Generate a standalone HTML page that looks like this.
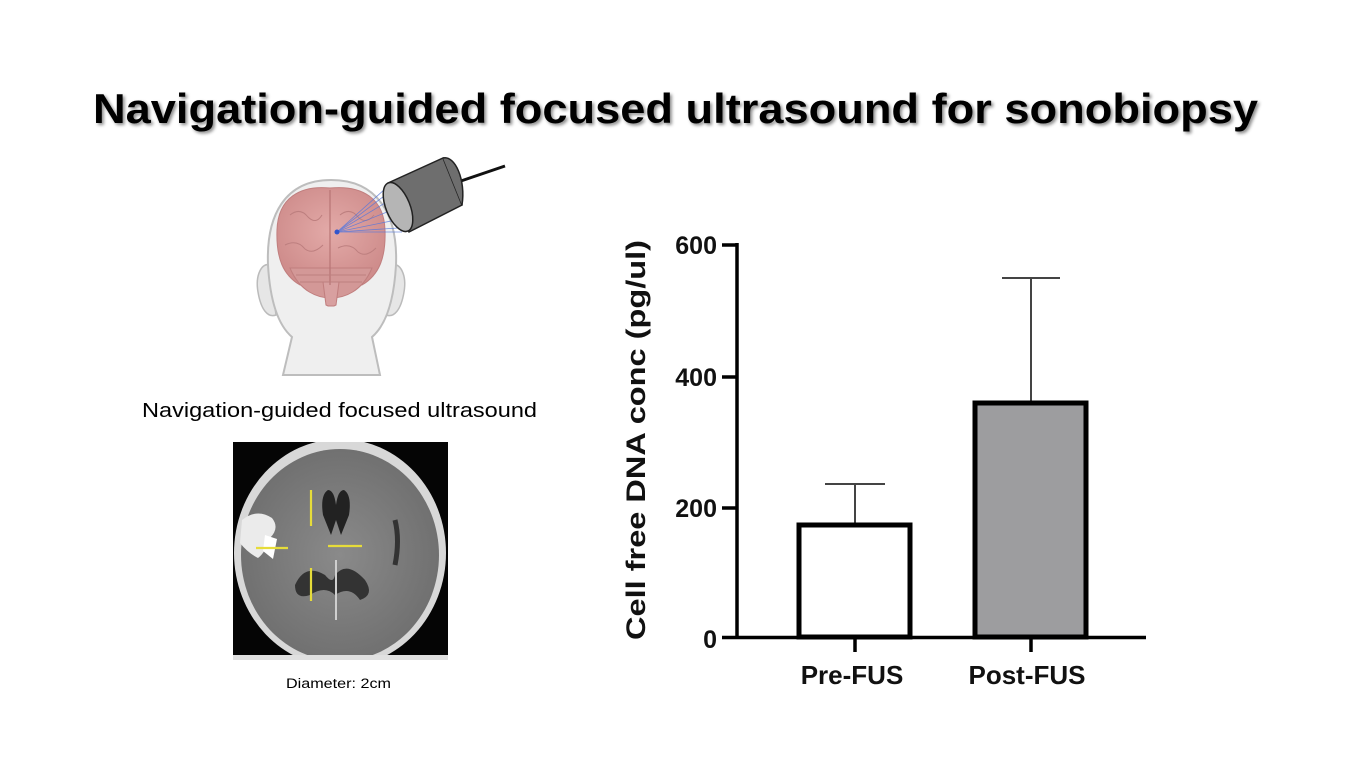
<!DOCTYPE html>
<html><head><meta charset="utf-8"><style>
html,body{margin:0;padding:0;background:#fff;}
svg{display:block;}
</style></head><body>
<svg width="1361" height="766" viewBox="0 0 1361 766" xmlns="http://www.w3.org/2000/svg" font-family="Liberation Sans, Arial, sans-serif">
<defs>
<filter id="sh" x="-5%" y="-20%" width="110%" height="150%"><feDropShadow dx="2" dy="2" stdDeviation="1.5" flood-color="#000" flood-opacity="0.45"/></filter>
<radialGradient id="brain" cx="50%" cy="45%" r="55%"><stop offset="0" stop-color="#e3aaa8"/><stop offset="1" stop-color="#cf8d8c"/></radialGradient>
<radialGradient id="mri" cx="50%" cy="50%" r="55%"><stop offset="0" stop-color="#8a8a8a"/><stop offset="1" stop-color="#6e6e6e"/></radialGradient>
<clipPath id="mc"><rect x="233" y="442" width="215" height="218"/></clipPath>
</defs>
<text x="93" y="123" font-size="42" font-weight="bold" textLength="1165" lengthAdjust="spacingAndGlyphs" filter="url(#sh)">Navigation-guided focused ultrasound for sonobiopsy</text>

<!-- head -->
<path d="M270 265 C262 262 255 275 258 292 C261 310 268 318 276 315 Z" fill="#e6e6e6" stroke="#bbb" stroke-width="1.5"/>
<path d="M392 265 C400 262 407 275 404 292 C401 310 394 318 386 315 Z" fill="#e6e6e6" stroke="#bbb" stroke-width="1.5"/>
<path d="M331 180 C285 180 266 215 268 265 C270 300 278 325 292 337 L283 375 L380 375 L372 337 C386 325 394 300 396 265 C398 215 378 180 331 180 Z" fill="#efefef" stroke="#bdbdbd" stroke-width="2"/>
<path d="M330 188 C300 185 278 198 277 230 C276 258 283 275 300 285 L362 285 C379 275 386 258 385 230 C384 198 362 185 330 188 Z" fill="url(#brain)" stroke="#c07e7e" stroke-width="1"/>
<path d="M290 268 C300 292 318 298 331 298 C344 298 362 292 372 268 Z" fill="#d39897" stroke="#c07e7e"/>
<path d="M323 282 L339 282 L336 305 L334 306 L328 306 L326 305 Z" fill="#d8a0a0" stroke="#c07e7e"/>
<line x1="330" y1="190" x2="330" y2="285" stroke="#b87575" stroke-width="1.2"/>
<g stroke="#bd7f7f" stroke-width="1" fill="none">
<path d="M290 215 q10 -8 18 2 q8 8 14 -2"/><path d="M285 245 q12 -6 20 4 q8 6 18 -4"/><path d="M340 215 q10 -8 18 2 q8 8 16 -2"/><path d="M338 248 q12 -6 20 4 q8 6 18 -4"/>
<path d="M296 275 h70"/><path d="M300 282 h62"/>
</g>
<g stroke="#5577dd" stroke-width="0.8" opacity="0.8">
<line x1="337" y1="232" x2="395" y2="180"/><line x1="337" y1="232" x2="392" y2="190"/><line x1="337" y1="232" x2="390" y2="200"/><line x1="337" y1="232" x2="392" y2="210"/><line x1="337" y1="232" x2="396" y2="220"/><line x1="337" y1="232" x2="402" y2="232"/><line x1="337" y1="232" x2="398" y2="228"/>
</g>
<circle cx="337" cy="232" r="2.5" fill="#3355cc"/>
<line x1="455" y1="183" x2="505" y2="166" stroke="#111" stroke-width="3"/>
<path d="M388 183 L443 158 L462 205 L409 232 Z" fill="#6e6e6e" stroke="#222" stroke-width="1.5"/>
<path d="M443 158 C455 155 466 180 462 205" fill="#6e6e6e" stroke="#222" stroke-width="1.5"/>
<ellipse cx="398" cy="207" rx="12" ry="26" transform="rotate(-22 398 207)" fill="#b5b5b5" stroke="#222" stroke-width="1.5"/>

<text x="142" y="417" font-size="20" textLength="395" lengthAdjust="spacingAndGlyphs">Navigation-guided focused ultrasound</text>

<!-- MRI -->
<g clip-path="url(#mc)">
<rect x="233" y="442" width="215" height="218" fill="#050505"/>
<ellipse cx="340" cy="553" rx="106" ry="114" fill="#d8d8d8"/>
<ellipse cx="340" cy="555" rx="99" ry="106" fill="url(#mri)"/>
<rect x="233" y="655" width="215" height="5" fill="#e0e0e0"/>
<path d="M328 490 q-8 5 -5 25 l8 20 l5 -15 l5 15 l8 -20 q3 -20 -5 -25 q-6 0 -8 15 q-2 -15 -8 -15Z" fill="#222"/>
<path d="M295 585 q10 -22 30 -10 q8 10 10 0 q12 -15 30 5 q10 15 -5 20 q-10 -15 -25 -5 q-10 -10 -25 0 q-15 5 -15 -10Z" fill="#333"/>
<path d="M242 520 q15 -12 30 -2 q8 10 -2 20 q-5 15 -12 20 q-10 -5 -18 -15 Z" fill="#ebebeb"/>
<path d="M265 535 l12 4 l-4 20 l-10 -8Z" fill="#fff"/>
<path d="M395 520 q5 20 0 45" stroke="#333" stroke-width="5" fill="none"/>
<path d="M336 560 l0 60" stroke="#cfcfcf" stroke-width="2"/>
<g stroke="#e6dc3a" stroke-width="2.2">
<line x1="311" y1="490" x2="311" y2="526"/><line x1="311" y1="568" x2="311" y2="601"/>
<line x1="256" y1="548" x2="288" y2="548"/><line x1="328" y1="546" x2="362" y2="546"/>
</g>
</g>
<text x="286" y="688" font-size="13.5" textLength="105" lengthAdjust="spacingAndGlyphs">Diameter: 2cm</text>

<!-- chart -->
<g stroke="#000" stroke-width="3.5" fill="none">
<line x1="737" y1="243" x2="737" y2="639"/>
<line x1="722" y1="637.5" x2="1146" y2="637.5"/>
<line x1="722" y1="245" x2="737" y2="245"/><line x1="722" y1="377" x2="737" y2="377"/><line x1="722" y1="508" x2="737" y2="508"/>
<line x1="855" y1="637" x2="855" y2="652"/><line x1="1031" y1="637" x2="1031" y2="652"/>
</g>
<g stroke="#444" stroke-width="2"><line x1="855" y1="525" x2="855" y2="484"/><line x1="825" y1="484" x2="885" y2="484"/>
<line x1="1031" y1="402" x2="1031" y2="278"/><line x1="1002" y1="278" x2="1060" y2="278"/></g>
<rect x="799" y="525" width="111" height="112" fill="#fff" stroke="#000" stroke-width="5"/>
<rect x="975" y="403" width="111" height="234" fill="#9d9d9f" stroke="#000" stroke-width="5"/>
<g font-size="25" font-weight="bold" fill="#111" text-anchor="end">
<text x="717" y="254">600</text><text x="717" y="386">400</text><text x="717" y="517">200</text><text x="717" y="648">0</text>
</g>
<g font-size="26" font-weight="bold" fill="#111" text-anchor="middle">
<text x="852" y="684">Pre-FUS</text><text x="1027" y="684">Post-FUS</text>
</g>
<text transform="translate(645 440) rotate(-90)" font-size="27" font-weight="bold" fill="#111" text-anchor="middle" textLength="400" lengthAdjust="spacingAndGlyphs">Cell free DNA conc (pg/ul)</text>
</svg>
</body></html>
